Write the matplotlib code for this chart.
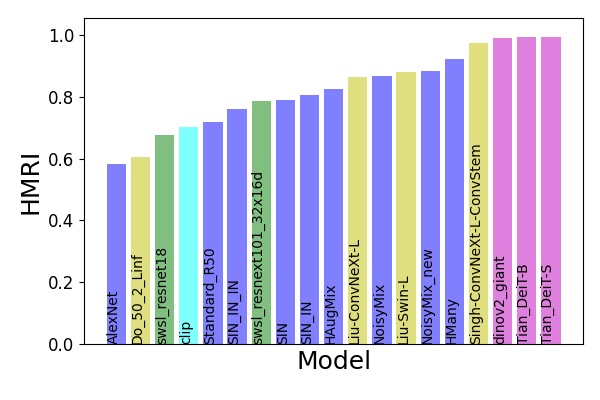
import matplotlib
matplotlib.use("Agg")
import matplotlib.pyplot as plt

models = ["AlexNet", "Do_50_2_Linf", "swsl_resnet18", "clip", "Standard_R50",
          "SIN_IN_IN", "swsl_resnext101_32x16d", "SIN", "SIN_IN", "HAugMix",
          "Liu-ConvNeXt-L", "NoisyMix", "Liu-Swin-L", "NoisyMix_new", "HMany",
          "Singh-ConvNeXt-L-ConvStem", "dinov2_giant", "Tian_DeiT-B", "Tian_DeiT-S"]
hmri = [0.581, 0.604, 0.675, 0.701, 0.717, 0.760, 0.786, 0.790, 0.806, 0.825,
        0.864, 0.867, 0.880, 0.883, 0.922, 0.974, 0.990, 0.993, 0.993]
groups = ["b", "y", "g", "c", "b", "b", "g", "b", "b", "b",
          "y", "b", "y", "b", "b", "y", "m", "m", "m"]
palette = {"b": "#8080ff", "y": "#dfdf80", "g": "#80bf80", "c": "#80ffff", "m": "#df80df"}

fig = plt.figure(figsize=(6, 4), dpi=100)
ax = fig.add_axes([0.14, 0.14, 0.832, 0.815])
x = list(range(len(models)))
ax.bar(x, hmri, width=0.8, color=[palette[g] for g in groups])
for i, name in enumerate(models):
    ax.text(i - 0.4, 0.0, name, rotation=90, ha="left", va="bottom", fontsize=10)
ax.set_xticks([])
ax.set_ylim(0, 1.055)
ax.tick_params(axis="y", labelsize=12)
ax.set_ylabel("HMRI", fontsize=18)
ax.set_xlabel("Model", fontsize=18)
fig.savefig("out.png", dpi=100)
